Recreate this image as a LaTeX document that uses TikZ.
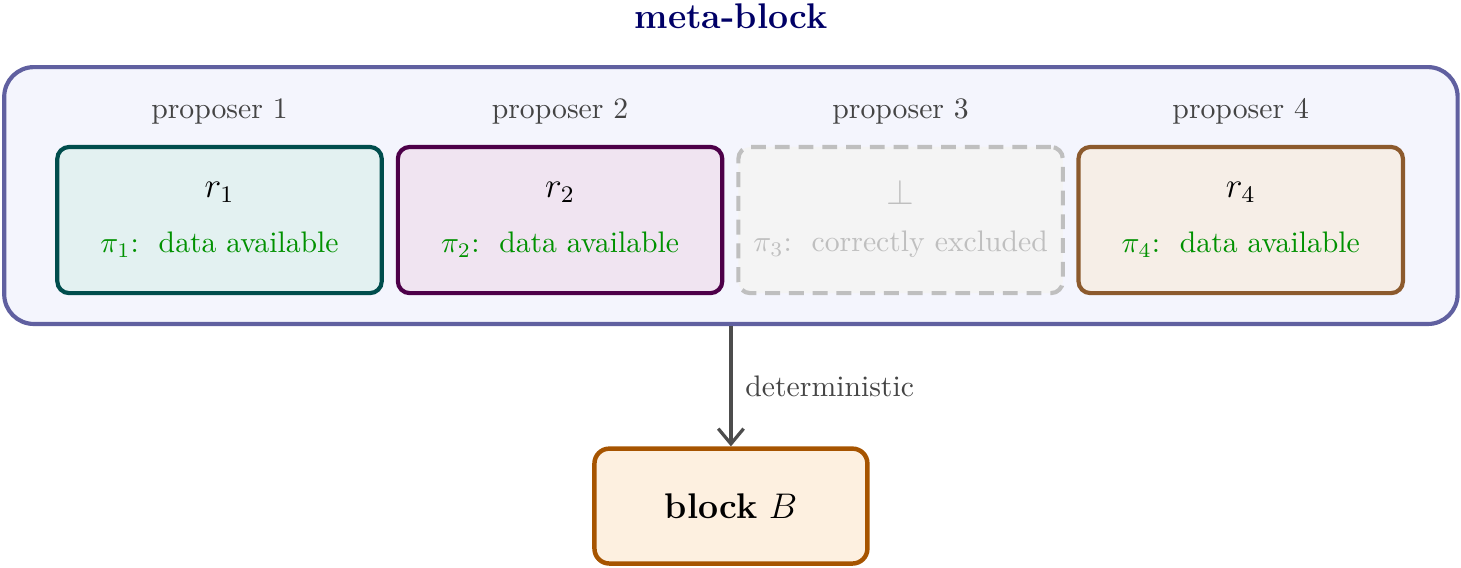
\documentclass[tikz,border=0pt]{standalone}
\usepackage{tikz}
\usetikzlibrary{arrows.meta}
\usepackage{amsmath}

\definecolor{titlecol}{RGB}{0,0,102}
\definecolor{metadraw}{RGB}{96,96,160}
\definecolor{metafill}{RGB}{244,245,253}
\definecolor{pAdraw}{RGB}{0,77,77}
\definecolor{pAfill}{RGB}{227,241,241}
\definecolor{pBdraw}{RGB}{77,0,73}
\definecolor{pBfill}{RGB}{240,228,241}
\definecolor{pCdraw}{RGB}{191,191,191}
\definecolor{pCfill}{RGB}{244,244,244}
\definecolor{pDdraw}{RGB}{140,90,45}
\definecolor{pDfill}{RGB}{246,238,231}
\definecolor{blkdraw}{RGB}{166,84,0}
\definecolor{blkfill}{RGB}{253,240,224}
\definecolor{okgreen}{RGB}{0,145,0}
\definecolor{labelgray}{RGB}{68,68,68}
\definecolor{arrowgray}{RGB}{77,77,77}

\begin{document}
\begin{tikzpicture}
	\useasboundingbox (0,0) rectangle (17.29,-6.72);

	\node[font=\large\bfseries,text=titlecol] (title) at (8.65,-0.19) {meta-block};
	\node[draw=metadraw,fill=metafill,line width=1.4pt,rounded corners=10pt,
		  minimum width=17.2cm,minimum height=3.04cm] (meta) at (8.65,-2.314) {};

	\begin{scope}[every node/.style={rounded corners=4pt,line width=1.4pt,
				  minimum width=3.84cm,minimum height=1.73cm}]
		\node[draw=pAdraw,fill=pAfill] (p1) at (2.598,-2.604) {};
		\node[draw=pBdraw,fill=pBfill] (p2) at (6.628,-2.604) {};
		\node[draw=pCdraw,fill=pCfill,dashed,dash pattern=on 5pt off 3pt] (p3) at (10.658,-2.604) {};
		\node[draw=pDdraw,fill=pDfill] (p4) at (14.683,-2.604) {};
	\end{scope}

	\begin{scope}[every node/.style={text=labelgray}]
		\node (l1) at (2.598,-1.314) {proposer 1};
		\node (l2) at (6.628,-1.314) {proposer 2};
		\node (l3) at (10.658,-1.314) {proposer 3};
		\node (l4) at (14.683,-1.314) {proposer 4};
	\end{scope}

	\node[font=\large] (r1) at ([yshift=0.33cm]p1.center) {$r_1$};
	\node[font=\large] (r2) at ([yshift=0.33cm]p2.center) {$r_2$};
	\node[font=\large,text=pCdraw] (r3) at ([yshift=0.33cm]p3.center) {$\bot$};
	\node[font=\large] (r4) at ([yshift=0.33cm]p4.center) {$r_4$};

	\node[text=okgreen] (pi1) at ([yshift=-0.29cm]p1.center) {$\pi_1$:\ \ data available};
	\node[text=okgreen] (pi2) at ([yshift=-0.29cm]p2.center) {$\pi_2$:\ \ data available};
	\node[text=pCdraw] (pi3) at ([yshift=-0.29cm]p3.center) {$\pi_3$:\ \ correctly excluded};
	\node[text=okgreen] (pi4) at ([yshift=-0.29cm]p4.center) {$\pi_4$:\ \ data available};

	\node[draw=blkdraw,fill=blkfill,line width=1.5pt,rounded corners=5pt,
		  minimum width=3.23cm,minimum height=1.36cm,font=\large] (blockB) at (8.65,-5.989) {\textbf{block} $B$};

	\path [-{Straight Barb[length=1.8mm,width=3mm]},line width=1.1pt,draw=arrowgray]
		(meta) edge node[right,text=labelgray,xshift=1pt] {deterministic} (blockB);
\end{tikzpicture}
\end{document}
